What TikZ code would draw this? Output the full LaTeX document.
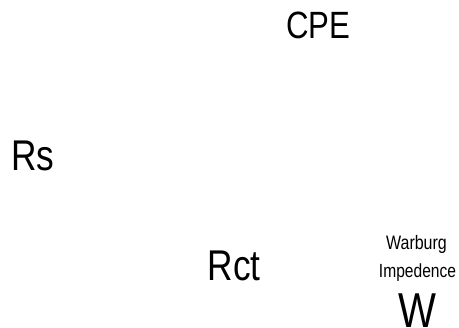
\documentclass[tikz,border=0pt]{standalone}
\usepackage{fontspec}
\setmainfont{Liberation Sans}[FakeStretch=0.82]
\begin{document}
\begin{tikzpicture}[x=1pt,y=-1pt,
  lbl/.style={inner sep=0pt,outer sep=0pt,anchor=base,text=black}]
\useasboundingbox (0,0) rectangle (459,328);
\node[lbl] (cpe) at (318.5,39) {\fontsize{38}{38}\selectfont CPE};
\node[lbl] (rs) at (33,171) {\fontsize{43}{43}\selectfont Rs};
\node[lbl] (rct) at (234,281) {\fontsize{43}{43}\selectfont Rct};
\node[lbl] (warburg) at (416.5,250) {\fontsize{19.5}{19.5}\selectfont Warburg};
\node[lbl] (imp) at (417.5,278) {\fontsize{19}{19}\selectfont Impedence};
\node[lbl] (w) at (417,327.5) {\fontsize{49}{49}\selectfont W};
\end{tikzpicture}
\end{document}
